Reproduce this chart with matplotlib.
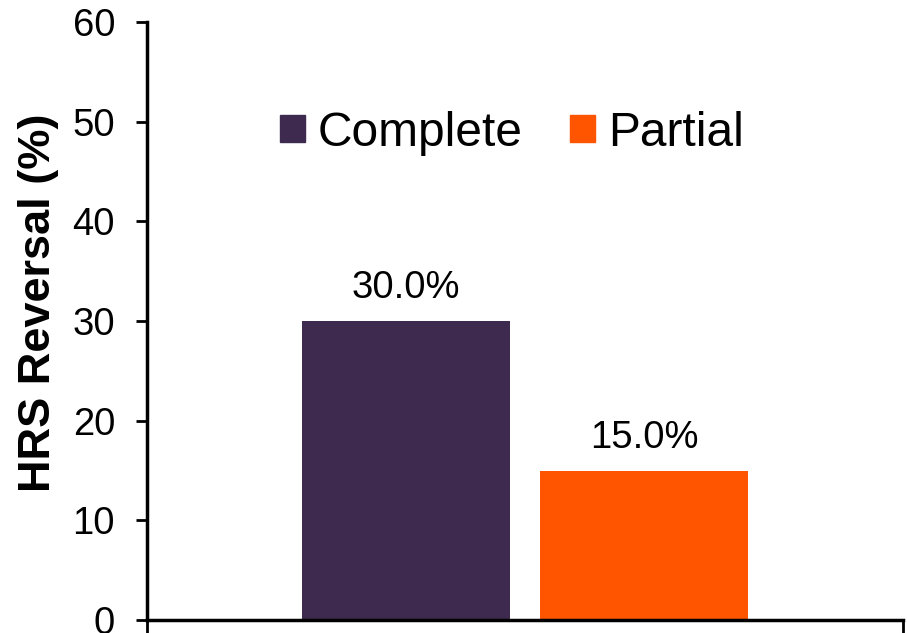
import matplotlib
matplotlib.use("Agg")
import matplotlib.pyplot as plt
from matplotlib.patches import Patch

plt.rcParams["font.family"] = ["Liberation Sans", "DejaVu Sans"]

series = ["Complete", "Partial"]
values = [30.0, 15.0]
colors = ["#3d2a4e", "#ff5500"]
y_ticks = [0, 10, 20, 30, 40, 50, 60]

fig = plt.figure(figsize=(9.07, 6.33), dpi=100)
ax = fig.add_axes([147 / 907, 13 / 633, 756 / 907, 598 / 633])

width = 0.275
offsets = [-0.158, 0.158]
for name, val, col, off in zip(series, values, colors, offsets):
    ax.bar(0.5 + off, val, width=width, color=col, label=name)
    ax.text(0.5 + off, val + 1.5, f"{val:.1f}%", ha="center", va="bottom", fontsize=27.5)

ax.set_xlim(0, 1)
ax.set_ylim(0, 60)
ax.set_yticks(y_ticks)
ax.tick_params(axis="y", labelsize=27.5, length=8, width=2, direction="out", pad=15)
ax.set_xticks([0, 1])
ax.set_xticklabels([])
ax.tick_params(axis="x", length=10, width=2, direction="out")

for side in ["top", "right"]:
    ax.spines[side].set_visible(False)
for side in ["left", "bottom"]:
    ax.spines[side].set_linewidth(2.5)

ax.set_ylabel("HRS Reversal (%)", fontsize=32.5, fontweight="bold")
ax.yaxis.set_label_coords(-0.116, 0.53)

handles = [Patch(color=c, label=s) for s, c in zip(series, colors)]
fig.legend(handles=handles, loc="center left", bbox_to_anchor=(280 / 907, 1 - 133 / 633),
           ncol=2, frameon=False, fontsize=34.5, handlelength=0.52, handleheight=0.52,
           handletextpad=0.27, columnspacing=0.98, borderpad=0, borderaxespad=0)

fig.savefig("out.png", dpi=100)
